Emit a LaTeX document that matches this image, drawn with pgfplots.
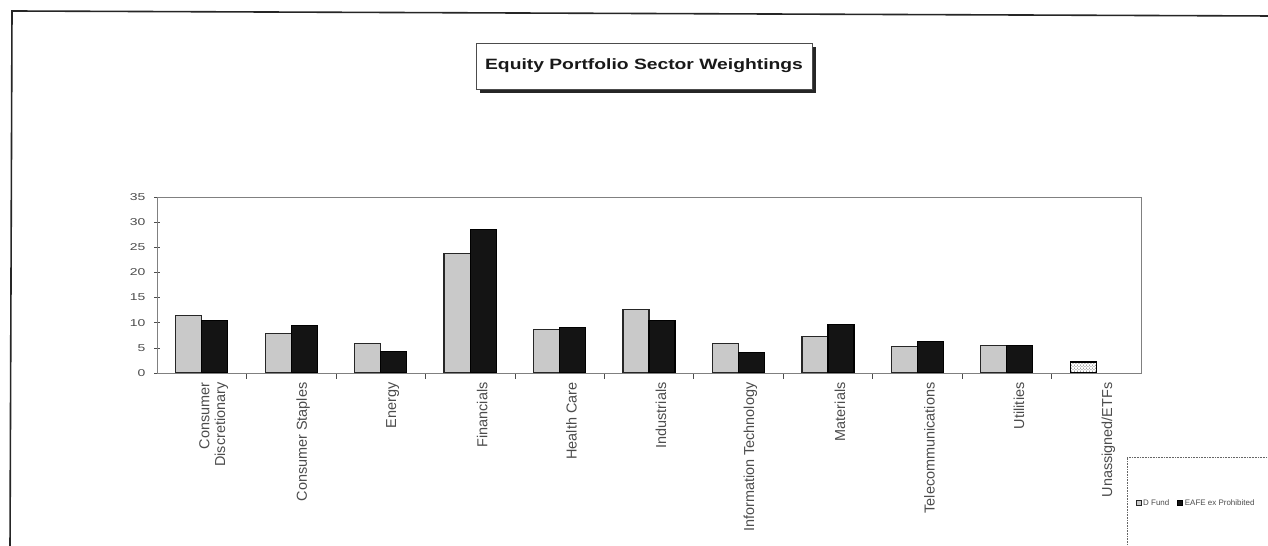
\documentclass[border=0pt]{standalone}
\usepackage{pgfplots}
\pgfplotsset{compat=1.18}
\usepackage{fontspec}
\setmainfont{Liberation Sans}
\usetikzlibrary{patterns}
\definecolor{fundgray}{HTML}{C9C9C9}
\definecolor{eafeblack}{HTML}{141414}
\begin{document}
\begin{tikzpicture}[x=1bp,y=1bp]
\useasboundingbox (0,0) rectangle (1268,546);
\fill[white] (0,0) rectangle (1268,546);
% outer frame (left and top edges visible)
\draw[line width=1.6bp, black!85] (10,-5) -- (12,535) -- (1270,530);
% title box with shadow
\fill[black!85] (480,453) rectangle (816,499);
\draw[fill=white, draw=black!70, line width=0.8bp] (476,457) rectangle (812,503);
\node[font=\fontsize{15}{18}\selectfont\bfseries, text=black!90] at (644,480) {\scalebox{1.29}[1]{Equity Portfolio Sector Weightings}};
% legend frame
\draw[densely dotted, black!60, line width=0.6bp] (1127,-5) -- (1127,89) -- (1272,89);
\begin{axis}[
  at={(157bp,173bp)}, anchor=south west,
  width=984bp, height=176bp, scale only axis,
  xmin=-0.5, xmax=10.5, ymin=0, ymax=35,
  ytick={0,5,...,35},
  xtick={0,...,10},
  tick pos=left,
  xticklabels={{Consumer\\Discretionary},{Consumer Staples},{Energy},{Financials},{Health Care},{Industrials},{Information Technology},{Materials},{Telecommunications},{Utilities},{Unassigned/ETFs}},
  minor xtick={0.5,1.5,...,9.5},
  major x tick style={draw=none},
  minor x tick style={black!70, line width=0.5bp},
  minor tick length=6bp,
  major tick length=6bp,
  tick align=center,
  ytick style={black!70, line width=0.5bp},
  axis line style={black!50, line width=0.6bp},
  /pgf/number format/assume math mode=true,
  yticklabel={\scalebox{1.4}[1]{\pgfmathprintnumber{\tick}}},
  yticklabel style={font=\fontsize{10}{12}\selectfont, text=black!70, xshift=-5bp},
  xticklabel style={rotate=90, anchor=east, align=right, font=\fontsize{14.5}{16}\selectfont, text=black!70, yshift=-12bp},
  ybar, bar width=26bp,
  legend style={at={(1.0559,-0.7386)}, anchor=center, draw=none, fill=none,
    font=\fontsize{8}{9}\selectfont, text=black!70,
    /tikz/every even column/.append style={column sep=6bp}},
  legend columns=2,
  legend image code/.code={\draw[#1, line width=0.6bp] (0bp,-2.5bp) rectangle (5bp,2.5bp);},
]
\addplot[bar shift=-13bp, fill=fundgray, draw=black!85, line width=1.2bp]
  coordinates {(0,11.4) (1,7.8) (2,5.8) (3,23.7) (4,8.6) (5,12.6) (6,5.9) (7,7.3) (8,5.3) (9,5.5)};
\addlegendentry{D Fund}
\addplot[bar shift=13bp, fill=eafeblack, draw=black, line width=1.2bp]
  coordinates {(0,10.4) (1,9.4) (2,4.3) (3,28.5) (4,9.1) (5,10.4) (6,4.1) (7,9.6) (8,6.2) (9,5.4)};
\addlegendentry{EAFE ex Prohibited}
\addplot[forget plot, bar shift=-13bp, pattern=crosshatch dots, pattern color=black!70, draw=black, line width=1.5bp]
  coordinates {(10,2.2)};
\end{axis}
\end{tikzpicture}
\end{document}
